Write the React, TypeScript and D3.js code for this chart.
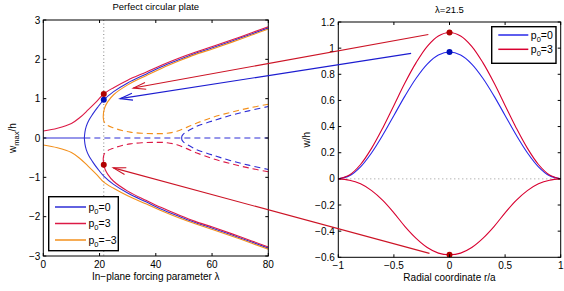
import React from 'react';
import * as d3 from 'd3';

const W = 564, H = 291;

// ---------- Left panel: w_max/h vs lambda ----------
const lamTicks = [0, 20, 40, 60, 80];
const wTicksL = [-3, -2, -1, 0, 1, 2, 3];
const lamMark = 21.5;

// p0 = 0 (blue)
const blueTrivialSolidLam = [0, 14.6];
const blueTrivialSolidW = [0, 0];
const blueTrivialDashLam = [14.6, 80];
const blueTrivialDashW = [0, 0];
const blueBranchLam = [14.6, 14.8, 15.3, 16.2, 17.5, 19.3, 21.5, 25, 30, 36.7, 42, 48.6, 54, 60.4, 70, 80];
const blueUpW = [0, 0.15, 0.3, 0.45, 0.6, 0.78, 0.97, 1.18, 1.4, 1.63, 1.81, 2.0, 2.15, 2.3, 2.54, 2.8];
const blueDownW = [0, -0.15, -0.3, -0.45, -0.6, -0.78, -0.97, -1.18, -1.4, -1.63, -1.81, -2.0, -2.15, -2.3, -2.54, -2.8];
const blueSecLam = [49.2, 49.3, 49.8, 51, 53, 55, 60, 66.4, 73, 80];
const blueSecUpW = [0, 0.05, 0.1, 0.16, 0.24, 0.31, 0.43, 0.57, 0.69, 0.8];
const blueSecDownW = [0, -0.05, -0.1, -0.16, -0.24, -0.31, -0.43, -0.57, -0.69, -0.8];

// p0 = 3 (red)
const redMainLam = [0, 5, 10, 13, 16, 19, 21.5, 25, 30, 36.7, 42, 48.6, 54, 60.4, 70, 80];
const redMainW = [0.18, 0.25, 0.37, 0.52, 0.72, 0.93, 1.12, 1.28, 1.47, 1.68, 1.85, 2.04, 2.18, 2.33, 2.57, 2.83];
const foldSolidLam = [21.3, 21.45, 22, 23, 25, 30, 36.7, 42, 48.6, 54, 60.4, 70, 80];
const redFoldSolidW = [-0.53, -0.66, -0.8, -0.93, -1.1, -1.35, -1.59, -1.77, -1.97, -2.12, -2.27, -2.51, -2.77];
const foldDashLam = [21.3, 21.6, 22.5, 24.9, 28, 30.9, 35, 40.3, 44, 47.5, 51, 54.6, 60, 66.5, 73, 80];
const redFoldDashW = [-0.53, -0.42, -0.34, -0.26, -0.19, -0.15, -0.12, -0.11, -0.12, -0.17, -0.27, -0.38, -0.52, -0.65, -0.76, -0.86];

// p0 = -3 (orange)
const orangeMainW = [-0.18, -0.25, -0.37, -0.52, -0.72, -0.93, -1.12, -1.28, -1.47, -1.68, -1.85, -2.04, -2.18, -2.33, -2.57, -2.83];
const orangeFoldSolidW = [0.53, 0.66, 0.8, 0.93, 1.1, 1.35, 1.59, 1.77, 1.97, 2.12, 2.27, 2.51, 2.77];
const orangeFoldDashW = [0.53, 0.42, 0.34, 0.26, 0.19, 0.15, 0.12, 0.11, 0.12, 0.17, 0.27, 0.38, 0.52, 0.65, 0.76, 0.86];

// markers at lambda = 21.5
const markBlueW = 0.97;
const markRedUpW = 1.12;
const markRedDownW = -0.68;

// ---------- Right panel: w/h vs r/a ----------
const rTicks = [-1, -0.5, 0, 0.5, 1];
const rTickLabels = ['\u22121', '\u22120.5', '0', '0.5', '1'];
const wTicksR = [-0.6, -0.4, -0.2, 0, 0.2, 0.4, 0.6, 0.8, 1, 1.2];
const wTickLabelsR = ['\u22120.6', '\u22120.4', '\u22120.2', '0', '0.2', '0.4', '0.6', '0.8', '1', '1.2'];
const rGrid = [-1, -0.9, -0.8, -0.7, -0.6, -0.5, -0.4, -0.3, -0.2, -0.1, 0, 0.1, 0.2, 0.3, 0.4, 0.5, 0.6, 0.7, 0.8, 0.9, 1];
const shapeBlue = [0, 0.023, 0.092, 0.2, 0.335, 0.485, 0.635, 0.77, 0.878, 0.947, 0.97, 0.947, 0.878, 0.77, 0.635, 0.485, 0.335, 0.2, 0.092, 0.023, 0];
const shapeRedUp = [0, 0.03, 0.11, 0.235, 0.39, 0.562, 0.735, 0.889, 1.014, 1.093, 1.12, 1.093, 1.014, 0.889, 0.735, 0.562, 0.39, 0.235, 0.11, 0.03, 0];
const shapeRedDown = [0, -0.01, -0.038, -0.09, -0.165, -0.26, -0.365, -0.455, -0.525, -0.568, -0.58, -0.568, -0.525, -0.455, -0.365, -0.26, -0.165, -0.09, -0.038, -0.01, 0];

// annotation arrows: [r, w] in right panel -> [lambda, w] in left panel
const arrowRedUp = { from: [-0.19, 1.105], to: [32, 1.27] };
const arrowBlue = { from: [-0.345, 0.96], to: [27.3, 1.0] };
const arrowRedDown = { from: [-0.18, -0.57], to: [24.9, -0.76] };

const BLUE = '#2e2ed6';
const RED = '#dc1a46';
const ORANGE = '#f3901c';
const RED_R = '#d80030';
const BLUE_R = '#2828e8';
const FONT = 'Liberation Sans, Arial, Helvetica, sans-serif';

export default function App() {
  const xL = d3.scaleLinear().domain([0, 80]).range([43.3, 268.3]);
  const yL = d3.scaleLinear().domain([-3, 3]).range([256, 20]);
  const xR = d3.scaleLinear().domain([-1, 1]).range([338.3, 560.7]);
  const yR = d3.scaleLinear().domain([-0.6, 1.2]).range([257.3, 22]);

  const gen = d3.line<[number, number]>().curve(d3.curveCatmullRom.alpha(0.5));
  const pL = (xs: number[], ys: number[]) => gen(xs.map((x, i) => [xL(x), yL(ys[i])] as [number, number])) || '';
  const pR = (xs: number[], ys: number[]) => gen(xs.map((x, i) => [xR(x), yR(ys[i])] as [number, number])) || '';

  const lw = 1.1;
  const dash = '6,4';

  const arrow = (a: { from: number[]; to: number[] }, color: string) => {
    const x1 = xR(a.from[0]), y1 = yR(a.from[1]);
    const x2 = xL(a.to[0]), y2 = yL(a.to[1]);
    const ang = Math.atan2(y1 - y2, x1 - x2);
    const len = 13, spread = 0.27;
    const ax = x2 + len * Math.cos(ang + spread), ay = y2 + len * Math.sin(ang + spread);
    const bx = x2 + len * Math.cos(ang - spread), by = y2 + len * Math.sin(ang - spread);
    return (
      <g stroke={color} strokeWidth={1.1} fill="none">
        <line x1={x1} y1={y1} x2={x2} y2={y2} />
        <path d={`M${ax},${ay}L${x2},${y2}L${bx},${by}`} />
      </g>
    );
  };

  const [l0, l1] = xL.range();
  const [t0, b0] = [yL(3), yL(-3)];
  const [r0, r1] = xR.range();
  const [t1, b1] = [yR(1.2), yR(-0.6)];
  const tk = 3;

  const legendEntry = (x: number, y: number, color: string, val: string, lineLen: number) => (
    <g>
      <line x1={x} x2={x + lineLen} y1={y} y2={y} stroke={color} strokeWidth={1.5} />
      <text x={x + lineLen + 2.5} y={y + 3.5} fontSize={10.5} fontFamily={FONT}>
        p<tspan fontSize={7.5} dy={3}>0</tspan><tspan dy={-3}>={val}</tspan>
      </text>
    </g>
  );

  return (
    <svg width={W} height={H} style={{ position: 'absolute', left: 0, top: 0, background: '#fff' }}>
      <defs>
        <clipPath id="clipL"><rect x={l0} y={t0} width={l1 - l0} height={b0 - t0} /></clipPath>
        <clipPath id="clipR"><rect x={r0} y={t1} width={r1 - r0} height={b1 - t1} /></clipPath>
      </defs>
      <rect x={0} y={0} width={W} height={H} fill="#fff" />

      {/* ---------- Left panel ---------- */}
      <text x={(l0 + l1) / 2} y={10} fontSize={9.5} fontFamily={FONT} textAnchor="middle">Perfect circular plate</text>
      <g clipPath="url(#clipL)" fill="none" strokeWidth={lw}>
        <line x1={xL(lamMark)} x2={xL(lamMark)} y1={t0} y2={b0} stroke="#666" strokeWidth={0.8} strokeDasharray="1,2.5" />
        {/* blue */}
        <path d={pL(blueTrivialSolidLam, blueTrivialSolidW)} stroke={BLUE} />
        <path d={pL(blueTrivialDashLam, blueTrivialDashW)} stroke={BLUE} strokeDasharray={dash} />
        <path d={pL(blueBranchLam, blueUpW)} stroke={BLUE} />
        <path d={pL(blueBranchLam, blueDownW)} stroke={BLUE} />
        <path d={pL(blueSecLam, blueSecUpW)} stroke={BLUE} strokeDasharray={dash} />
        <path d={pL(blueSecLam, blueSecDownW)} stroke={BLUE} strokeDasharray={dash} />
        {/* red */}
        <path d={pL(redMainLam, redMainW)} stroke={RED} />
        <path d={pL(foldSolidLam, redFoldSolidW)} stroke={RED} />
        <path d={pL(foldDashLam, redFoldDashW)} stroke={RED} strokeDasharray={dash} />
        {/* orange */}
        <path d={pL(redMainLam, orangeMainW)} stroke={ORANGE} />
        <path d={pL(foldSolidLam, orangeFoldSolidW)} stroke={ORANGE} />
        <path d={pL(foldDashLam, orangeFoldDashW)} stroke={ORANGE} strokeDasharray={dash} />
        {/* markers */}
        <circle cx={xL(lamMark)} cy={yL(markRedUpW)} r={3} fill="#b00000" stroke="none" />
        <circle cx={xL(lamMark)} cy={yL(markBlueW)} r={3} fill="#0010b8" stroke="none" />
        <circle cx={xL(lamMark)} cy={yL(markRedDownW)} r={3} fill="#b00000" stroke="none" />
      </g>
      {/* frame & ticks */}
      <rect x={l0} y={t0} width={l1 - l0} height={b0 - t0} fill="none" stroke="#000" strokeWidth={1} />
      {lamTicks.map((v) => (
        <g key={'lx' + v}>
          <line x1={xL(v)} x2={xL(v)} y1={b0} y2={b0 - tk} stroke="#000" />
          <line x1={xL(v)} x2={xL(v)} y1={t0} y2={t0 + tk} stroke="#000" />
          <text x={xL(v)} y={b0 + 12} fontSize={10} fontFamily={FONT} textAnchor="middle">{v}</text>
        </g>
      ))}
      {wTicksL.map((v) => (
        <g key={'ly' + v}>
          <line x1={l0} x2={l0 + tk} y1={yL(v)} y2={yL(v)} stroke="#000" />
          <line x1={l1} x2={l1 - tk} y1={yL(v)} y2={yL(v)} stroke="#000" />
          <text x={l0 - 3} y={yL(v) + 3.5} fontSize={10} fontFamily={FONT} textAnchor="end">{v < 0 ? '\u2212' + Math.abs(v) : v}</text>
        </g>
      ))}
      <text x={(l0 + l1) / 2} y={280} fontSize={10} fontFamily={FONT} textAnchor="middle">In{'\u2212'}plane forcing parameter λ</text>
      <text transform={`translate(16,${(t0 + b0) / 2}) rotate(-90)`} fontSize={10} fontFamily={FONT} textAnchor="middle">
        w<tspan fontSize={7.5} dy={3}>max</tspan><tspan dy={-3}>/h</tspan>
      </text>
      {/* left legend */}
      <rect x={48.7} y={196.7} width={69.6} height={54} fill="#fff" stroke="#000" strokeWidth={1.4} />
      {legendEntry(55, 207, BLUE, '0', 31)}
      {legendEntry(55, 223.5, RED, '3', 31)}
      {legendEntry(55, 240, ORANGE, '\u22123', 31)}

      {/* ---------- Right panel ---------- */}
      <text x={(r0 + r1) / 2} y={12.5} fontSize={9.5} fontFamily={FONT} textAnchor="middle">λ=21.5</text>
      <g clipPath="url(#clipR)" fill="none" strokeWidth={lw}>
        <line x1={r0} x2={r1} y1={yR(0)} y2={yR(0)} stroke="#777" strokeWidth={0.8} strokeDasharray="1,3" />
        <path d={pR(rGrid, shapeBlue)} stroke={BLUE_R} />
        <path d={pR(rGrid, shapeRedUp)} stroke={RED_R} />
        <path d={pR(rGrid, shapeRedDown)} stroke={RED_R} />
        <circle cx={xR(0)} cy={yR(markRedUpW)} r={3} fill="#b00000" stroke="none" />
        <circle cx={xR(0)} cy={yR(markBlueW)} r={3} fill="#0010b8" stroke="none" />
        <circle cx={xR(0)} cy={yR(-0.58)} r={3} fill="#b00000" stroke="none" />
      </g>
      <rect x={r0} y={t1} width={r1 - r0} height={b1 - t1} fill="none" stroke="#000" strokeWidth={1} />
      {rTicks.map((v, i) => (
        <g key={'rx' + v}>
          <line x1={xR(v)} x2={xR(v)} y1={b1} y2={b1 - tk} stroke="#000" />
          <line x1={xR(v)} x2={xR(v)} y1={t1} y2={t1 + tk} stroke="#000" />
          <text x={xR(v)} y={b1 + 12} fontSize={10} fontFamily={FONT} textAnchor="middle">{rTickLabels[i]}</text>
        </g>
      ))}
      {wTicksR.map((v, i) => (
        <g key={'ry' + v}>
          <line x1={r0} x2={r0 + tk} y1={yR(v)} y2={yR(v)} stroke="#000" />
          <line x1={r1} x2={r1 - tk} y1={yR(v)} y2={yR(v)} stroke="#000" />
          <text x={r0 - 3.5} y={yR(v) + 3.5} fontSize={10} fontFamily={FONT} textAnchor="end">{wTickLabelsR[i]}</text>
        </g>
      ))}
      <text x={(r0 + r1) / 2} y={281} fontSize={10} fontFamily={FONT} textAnchor="middle">Radial coordinate r/a</text>
      <text transform={`translate(310,${(t1 + b1) / 2}) rotate(-90)`} fontSize={10} fontFamily={FONT} textAnchor="middle">w/h</text>
      {/* right legend */}
      <rect x={491.7} y={26.7} width={64.3} height={36.6} fill="#fff" stroke="#000" strokeWidth={1.4} />
      {legendEntry(498.3, 35, BLUE_R, '0', 30)}
      {legendEntry(498.3, 49.3, RED_R, '3', 30)}

      {/* ---------- Annotation arrows ---------- */}
      {arrow(arrowRedUp, '#cc1426')}
      {arrow(arrowBlue, '#1c1cd0')}
      {arrow(arrowRedDown, '#cc1426')}
    </svg>
  );
}
